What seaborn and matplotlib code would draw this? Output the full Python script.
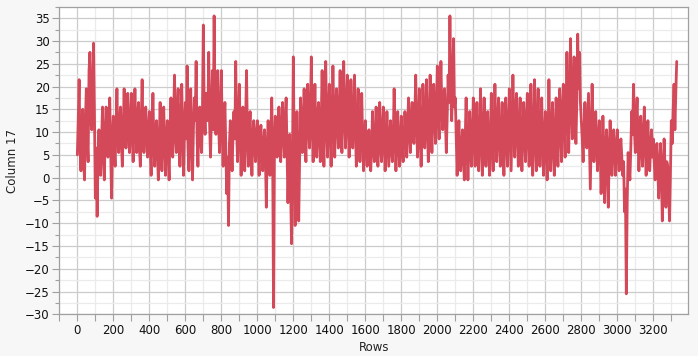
import numpy as np
import pandas as pd
import matplotlib
matplotlib.use("Agg")
import matplotlib.pyplot as plt
import seaborn as sns
from matplotlib.ticker import MultipleLocator

row_step = 5
column17 = [
    5, 12.5, 21.5, 6.5, 1.5, 9.5, 15, 3.5, -0.5, 12.5, 19.5, 8.5, 3.5, 23.5, 27.5, 12.5, 10.5, 20.5, 29.5, 14.5,
    -4.5, 6.5, -8.5, 4.5, 10.5, 2.5, 0.5, 8.5, 15.5, 5.5, -0.5, 9.5, 15.5, 7.5, 4.5, 11.5, 17.5, 6.5, -4.5, 7.5,
    13.5, 6.5, 2.5, 11.5, 19.5, 8.5, 5.5, 12.5, 15.5, 7.5, 2.5, 10.5, 19.5, 9.5, 6.5, 14.5, 18.5, 8.5, 5.5, 12.5,
    18.5, 9.5, 3.5, 11.5, 19.5, 10.5, 5.5, 13.5, 16.5, 6.5, 2.5, 12.5, 21.5, 9.5, 5.5, 11.5, 15.5, 8.5, 4.5, 10.5,
    14.5, 6.5, 0.5, 9.5, 18.5, 7.5, 2.5, 10.5, 12.5, 5.5, -0.5, 8.5, 16.5, 6.5, 1.5, 9.5, 15.5, 7.5, 0.5, 8.5,
    12.5, 5.5, -0.5, 10.5, 17.5, 8.5, 4.5, 13.5, 22.5, 9.5, 5.5, 14.5, 19.5, 8.5, 2.5, 12.5, 20.5, 9.5, 0.5, 10.5,
    16.5, 8.5, 24.5, 6.5, 1.5, 11.5, 19.5, 7.5, -0.5, 10.5, 17.5, 12.5, 25.5, 9.5, 2.5, 11.5, 15.5, 8.5, 5.5, 14.5,
    33.5, 14.5, 9.5, 18.5, 16.5, 12.5, 27.5, 11.5, 4.5, 14.5, 23.5, 10.5, 35.5, 15.5, 9.5, 17.5, 23.5, 11.5, 5.5, 13.5,
    23.5, 10.5, 2.5, 12.5, 16.5, 6.5, -3.5, 4.5, -10.5, 7.5, 12.5, 6.5, 1.5, 9.5, 14.5, 8.5, 25.5, 10.5, 3.5, 11.5,
    20.5, 9.5, 0.5, 10.5, 15.5, 6.5, 1.5, 12.5, 23.5, 9.5, 2.5, 10.5, 14.5, 6.5, 0.5, 8.5, 12.5, 7.5, 3.5, 9.5,
    12.5, 6.5, 0.5, 8.5, 11.5, 5.5, 1.5, 7.5, 10.5, 4.5, -6.5, 6.5, 12.5, 5.5, 0.5, 9.5, 17.5, 6.5, -28.5, 5.5,
    13.5, 8.5, 4.5, 10.5, 15.5, 7.5, 3.5, 11.5, 16.5, 9.5, 4.5, 12.5, 17.5, 6.5, -5.5, 3.5, 9.5, -2.5, -14.5, 2.5,
    26.5, 5.5, -10.5, 3.5, 14.5, 1.5, -9.5, 4.5, 17.5, 10.5, 5.5, 12.5, 19.5, 9.5, 3.5, 13.5, 20.5, 11.5, 6.5, 14.5,
    26.5, 11.5, 3.5, 12.5, 20.5, 9.5, 4.5, 13.5, 16.5, 8.5, 3.5, 12.5, 23.5, 10.5, 2.5, 14.5, 25.5, 12.5, 4.5, 13.5,
    20.5, 10.5, 2.5, 12.5, 24.5, 13.5, 4.5, 14.5, 19.5, 11.5, 6.5, 15.5, 23.5, 12.5, 5.5, 16.5, 25.5, 13.5, 6.5, 14.5,
    22.5, 12.5, 4.5, 13.5, 21.5, 11.5, 6.5, 14.5, 22.5, 10.5, 2.5, 11.5, 19.5, 9.5, 3.5, 10.5, 18.5, 8.5, 1.5, 7.5,
    12.5, 6.5, 2.5, 7.5, 10.5, 5.5, 1.5, 6.5, 14.5, 7.5, 3.5, 8.5, 15.5, 6.5, 2.5, 7.5, 16.5, 8.5, 3.5, 9.5,
    15.5, 7.5, 1.5, 6.5, 14.5, 8.5, 2.5, 7.5, 12.5, 6.5, 3.5, 8.5, 19.5, 9.5, 1.5, 7.5, 14.5, 8.5, 2.5, 6.5,
    13.5, 7.5, 3.5, 8.5, 14.5, 9.5, 4.5, 10.5, 17.5, 11.5, 5.5, 12.5, 16.5, 10.5, 7.5, 13.5, 22.5, 11.5, 4.5, 10.5,
    19.5, 9.5, 2.5, 10.5, 20.5, 12.5, 6.5, 13.5, 21.5, 10.5, 3.5, 11.5, 22.5, 12.5, 5.5, 13.5, 20.5, 14.5, 7.5, 15.5,
    24.5, 14.5, 8.5, 16.5, 25.5, 15.5, 10.5, 17.5, 19.5, 12.5, 5.5, 13.5, 22.5, 16.5, 35.5, 18.5, 12.5, 20.5, 30.5, 15.5,
    17.5, 8.5, 0.5, 7.5, 12.5, 5.5, 1.5, 6.5, 10.5, 4.5, -0.5, 8.5, 17.5, 6.5, -0.5, 5.5, 14.5, 7.5, 2.5, 9.5,
    17.5, 8.5, 2.5, 9.5, 16.5, 7.5, 1.5, 8.5, 19.5, 9.5, 0.5, 7.5, 17.5, 8.5, 2.5, 9.5, 14.5, 6.5, 0.5, 7.5,
    18.5, 8.5, 1.5, 9.5, 20.5, 10.5, 3.5, 11.5, 17.5, 8.5, 2.5, 9.5, 16.5, 7.5, 0.5, 8.5, 17.5, 9.5, 2.5, 10.5,
    19.5, 10.5, 1.5, 11.5, 22.5, 12.5, 4.5, 13.5, 18.5, 9.5, 2.5, 10.5, 17.5, 8.5, 1.5, 9.5, 16.5, 10.5, 3.5, 11.5,
    18.5, 9.5, 2.5, 10.5, 20.5, 8.5, 0.5, 9.5, 21.5, 10.5, 1.5, 11.5, 19.5, 9.5, 2.5, 10.5, 17.5, 7.5, 0.5, 8.5,
    14.5, 6.5, -0.5, 7.5, 21.5, 9.5, 1.5, 8.5, 16.5, 7.5, 0.5, 9.5, 17.5, 10.5, 2.5, 11.5, 19.5, 12.5, 3.5, 13.5,
    20.5, 12.5, 4.5, 14.5, 27.5, 15.5, 5.5, 16.5, 30.5, 17.5, 8.5, 18.5, 26.5, 14.5, 7.5, 16.5, 31.5, 19.5, 27.5, 16.5,
    12.5, 8.5, 3.5, 10.5, 16.5, 9.5, 6.5, 12.5, 18.5, 7.5, -2.5, 8.5, 20.5, 10.5, 3.5, 9.5, 14.5, 7.5, 1.5, 8.5,
    12.5, 5.5, -3.5, 4.5, 13.5, 6.5, -5.5, 3.5, 10.5, 4.5, -6.5, 5.5, 12.5, 6.5, 0.5, 7.5, 10.5, 5.5, 0.5, 6.5,
    10.5, 5.5, 1.5, 6.5, 8.5, 4.5, 0.5, 3.5, -7.5, -2.5, -25.5, -5.5, 5.5, 2.5, -0.5, 6.5, 14.5, 9.5, 20.5, 10.5,
    5.5, 12.5, 17.5, 8.5, 1.5, 7.5, 13.5, 6.5, 2.5, 9.5, 15.5, 7.5, 0.5, 6.5, 12.5, 5.5, 1.5, 6.5, 10.5, 4.5,
    8.5, 3.5, -0.5, 4.5, 7.5, 1.5, -4.5, 2.5, 7.5, 0.5, -9.5, 1.5, 8.5, 2.5, -6.5, 3.5, 2.5, -2.5, -9.5, 0.5,
    12.5, 7.5, 14.5, 20.5, 10.5, 18.5, 25.5,
]
rows = [i * row_step for i in range(len(column17))]

df = pd.DataFrame({"Rows": rows, "Column 17": column17})

sns.set_theme(style="white")
plt.rcParams["font.family"] = ["DejaVu Sans"]

fig = plt.figure(figsize=(6.98, 3.56), dpi=100)
fig.patch.set_facecolor("#f7f7f7")
ax = fig.add_axes([0.085, 0.117, 0.901, 0.864])
ax.set_facecolor("white")

sns.lineplot(data=df, x="Rows", y="Column 17", ax=ax, color="#d4495a",
             linewidth=2.0, zorder=3)

ax.set_xlim(-100, 3394)
ax.set_ylim(-30, 37.5)
ax.xaxis.set_major_locator(MultipleLocator(200))
ax.xaxis.set_minor_locator(MultipleLocator(100))
ax.yaxis.set_major_locator(MultipleLocator(5))
ax.yaxis.set_minor_locator(MultipleLocator(2.5))
ax.set_xticks(np.arange(0, 3201, 200))

ax.grid(which="major", color="#cccccc", linewidth=0.9, zorder=0)
ax.grid(which="minor", color="#ebebeb", linewidth=0.9, zorder=0)
ax.set_axisbelow(True)

for s in ax.spines.values():
    s.set_color("#a0a0a0")
    s.set_linewidth(0.9)

ax.tick_params(axis="both", which="major", direction="out", length=5,
               width=0.8, color="#a0a0a0", labelsize=8.5, labelcolor="#111111",
               bottom=True, left=True, pad=2)
ax.tick_params(axis="both", which="minor", direction="out", length=3,
               width=0.8, color="#a0a0a0", bottom=True, left=True)
ax.tick_params(axis="x", which="minor", length=5)

ax.set_xlabel("Rows", fontsize=8.5, color="#222222", labelpad=3)
ax.set_ylabel("Column 17", fontsize=8.5, color="#222222", labelpad=4)

fig.savefig("out.png", dpi=100, facecolor=fig.get_facecolor())
